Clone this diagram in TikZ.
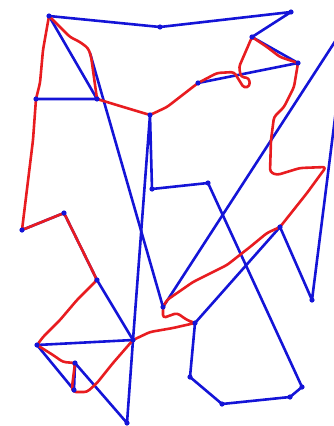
\documentclass[tikz,border=0pt]{standalone}
\usepackage{tikz}
\usetikzlibrary{calc}

\definecolor{tourblue}{RGB}{20,20,215}
\definecolor{routered}{RGB}{232,28,32}
\tikzset{
	tour/.style={draw=tourblue,line width=2.6pt,line cap=round,line join=round},
	route/.style={draw=routered,line width=2.6pt,line cap=round,line join=round,rounded corners=3pt},
}

\begin{document}
\begin{tikzpicture}[x=1pt,y=-1pt]
	\useasboundingbox (0,0) rectangle (334,426);
	% Coordinates
	\coordinate (A) at (49,16);
	\coordinate (B) at (160,27);
	\coordinate (C) at (291,12);
	\coordinate (D) at (252,37);
	\coordinate (E) at (298,63);
	\coordinate (F) at (198,83);
	\coordinate (G) at (36,99);
	\coordinate (H) at (97,99);
	\coordinate (I) at (90,53);
	\coordinate (J) at (150,115);
	\coordinate (K) at (152,189);
	\coordinate (L) at (208,183);
	\coordinate (M) at (22,230);
	\coordinate (N) at (64,213);
	\coordinate (O) at (97,280);
	\coordinate (P) at (163,307);
	\coordinate (Q) at (133,340);
	\coordinate (R) at (280,227);
	\coordinate (S) at (312,300);
	\coordinate (T) at (195,323);
	\coordinate (U) at (190,377);
	\coordinate (V) at (222,404);
	\coordinate (W) at (290,397);
	\coordinate (X) at (302,387);
	\coordinate (Y) at (37,345);
	\coordinate (Z) at (74,390);
	\coordinate (Z1) at (75,363);
	\coordinate (Z2) at (127,423);
	\coordinate (E1) at (336,40);
	\coordinate (E2) at (336,110);
	\coordinate (R1) at (326,167);
	% Blue tour
	\draw[tour] (A)--(B)--(C)--(D)--(E)--(F);
	\draw[tour] (G)--(H)--(A);
	\draw[tour] (I)--(P)--(E1);
	\draw[tour] (M)--(N)--(O)--(Q)--(J)--(K)--(L)--(X)--(W)--(V)--(U)--(T)--(R)--(S)--(E2);
	\draw[tour] (Q)--(Y)--(Z)--(Z1)--(Z2)--cycle;
	% Red route
	\draw[route] (A) -- (70,37) -- (80,42) -- (88,48) -- (91,56) -- (H)
		-- (120,106) -- (J) -- (167,107) -- (F) -- (217,73) -- (234,72)
		-- (239,80) -- (244,88) -- (250,86) -- (249,78) -- (241,77) -- (239,67)
		-- (D) -- (267,47) -- (280,57) -- (E) -- (294,87) -- (284,107)
		-- (274,117) -- (271,140) -- (270,172) -- (277,175) -- (300,168) -- (R1)
		-- (307,193) -- (R) -- (267,233) -- (250,247) -- (227,265) -- (193,282)
		-- (167,300) -- (P) -- (163,318) -- (177,313) -- (187,320) -- (T)
		-- (173,328) -- (150,332) -- (Q) -- (113,363) -- (97,383) -- (87,392)
		-- (73,392) -- (72,387) -- (Z1) -- (63,362) -- (53,355) -- (Y)
		-- (43,337) -- (60,320) -- (77,300) -- (O) -- (N) -- (M)
		-- (33,140) -- (G) -- (40,83) -- (43,50) -- cycle;
	% Node dots
	\foreach \P in {A, B, C, D, E, F, G, H, J, K, L, M, N, O, P, Q, R, S, T, U, V, W, X, Y, Z, Z1, Z2} {
			\fill[tourblue] (\P) circle (2.6pt);
		}
\end{tikzpicture}
\end{document}
